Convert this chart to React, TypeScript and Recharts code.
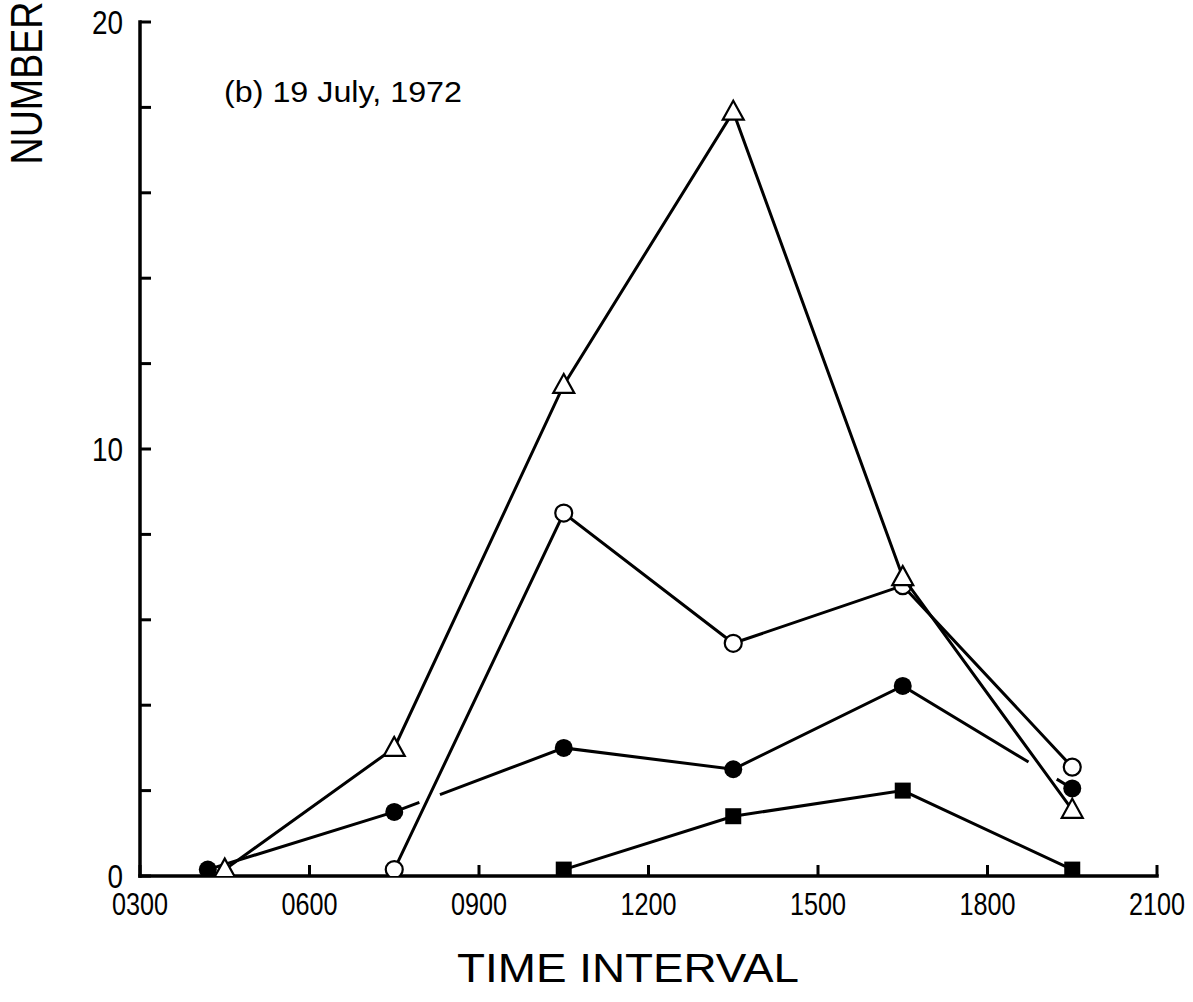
import React from 'react';
import { ComposedChart, Scatter, XAxis, YAxis, Label } from 'recharts';

// time of day in hours (0300 = 3)
const HOUR_TICKS = [3, 6, 9, 12, 15, 18, 21];
const HOUR_LABELS = ['0300', '0600', '0900', '1200', '1500', '1800', '2100'];
const COUNT_TICKS = [0, 2, 4, 6, 8, 10, 12, 14, 16, 18, 20];
const LABELED_COUNTS = [0, 10, 20];

const triangleTimes = [4.5, 7.5, 10.5, 13.5, 16.5, 19.5];
const triangleCounts = [0.15, 3.0, 11.5, 17.9, 7.0, 1.55];

const openCircleTimes = [7.5, 10.5, 13.5, 16.5, 19.5];
const openCircleCounts = [0.15, 8.5, 5.45, 6.8, 2.55];

const filledCircleTimes = [4.2, 7.5, 10.5, 13.5, 16.5, 19.5];
const filledCircleCounts = [0.15, 1.5, 3.0, 2.5, 4.45, 2.05];

const squareTimes = [10.5, 13.5, 16.5, 19.5];
const squareCounts = [0.15, 1.4, 2.0, 0.15];

const toPoints = (times: number[], counts: number[]) =>
  times.map((t, i) => ({ t, v: counts[i] }));

const FONT = '"Liberation Sans Narrow", "Liberation Sans", Arial, sans-serif';
const INK = '#000';

const XTick = (props: any) => {
  const { x, y, payload } = props;
  const label = HOUR_LABELS[HOUR_TICKS.indexOf(payload.value)] ?? '';
  return (
    <g>
      <line x1={x} y1={y} x2={x} y2={y - 11} stroke={INK} strokeWidth={3} />
      <text
        x={x}
        y={y + 39}
        textAnchor="middle"
        fontFamily={FONT}
        fontSize={32}
        textLength={56}
        lengthAdjust="spacingAndGlyphs"
        fill={INK}
      >
        {label}
      </text>
    </g>
  );
};

const YTick = (props: any) => {
  const { x, y, payload } = props;
  const show = LABELED_COUNTS.includes(payload.value);
  const txt = String(payload.value);
  return (
    <g>
      <line x1={x} y1={y} x2={x + 11} y2={y} stroke={INK} strokeWidth={3} />
      {show && (
        <text
          x={x - 17}
          y={y + 12}
          textAnchor="end"
          fontFamily={FONT}
          fontSize={33}
          textLength={15.5 * txt.length}
          lengthAdjust="spacingAndGlyphs"
          fill={INK}
        >
          {txt}
        </text>
      )}
    </g>
  );
};

const triangle = (p: any) => (
  <polygon
    points={`${p.cx},${p.cy - 11} ${p.cx - 10.5},${p.cy + 8} ${p.cx + 10.5},${p.cy + 8}`}
    fill="#fff"
    stroke={INK}
    strokeWidth={2.2}
  />
);
const openCircle = (p: any) => (
  <circle cx={p.cx} cy={p.cy} r={8.5} fill="#fff" stroke={INK} strokeWidth={2.2} />
);
const filledCircle = (p: any) => <circle cx={p.cx} cy={p.cy} r={9} fill={INK} />;
const square = (p: any) => (
  <rect x={p.cx - 8} y={p.cy - 8} width={16} height={16} fill={INK} />
);

const lineStyle = { stroke: INK, strokeWidth: 3 };

export default function App() {
  return (
    <div style={{ position: 'absolute', left: 0, top: 0, background: '#fff' }}>
      <ComposedChart
        width={1193}
        height={1002}
        margin={{ top: 22, right: 36, left: 80, bottom: 66 }}
      >
        <XAxis
          type="number"
          dataKey="t"
          domain={[3, 21]}
          ticks={HOUR_TICKS}
          interval={0}
          height={60}
          tickSize={0}
          tickMargin={0}
          tickLine={false}
          axisLine={{ stroke: INK, strokeWidth: 3.5, strokeLinecap: 'square' }}
          tick={<XTick />}
          allowDataOverflow
        >
          <Label
            content={() => (
              <text
                x={628}
                y={982}
                textAnchor="middle"
                fontFamily={FONT}
                fontSize={40}
                textLength={342}
                lengthAdjust="spacingAndGlyphs"
                fill={INK}
              >
                TIME INTERVAL
              </text>
            )}
          />
        </XAxis>
        <YAxis
          type="number"
          dataKey="v"
          domain={[0, 20]}
          ticks={COUNT_TICKS}
          interval={0}
          width={60}
          tickSize={0}
          tickMargin={0}
          tickLine={false}
          axisLine={{ stroke: INK, strokeWidth: 3.5, strokeLinecap: 'square' }}
          tick={<YTick />}
          allowDataOverflow
        >
          <Label
            content={() => (
              <g>
                <text
                  transform="translate(42, 83) rotate(-90)"
                  textAnchor="middle"
                  fontFamily={FONT}
                  fontSize={44}
                  textLength={163}
                  lengthAdjust="spacingAndGlyphs"
                  fill={INK}
                >
                  NUMBER
                </text>
                <text
                  x={224}
                  y={102}
                  fontFamily={FONT}
                  fontSize={29}
                  textLength={238}
                  lengthAdjust="spacingAndGlyphs"
                  fill={INK}
                >
                  (b) 19 July, 1972
                </text>
              </g>
            )}
          />
        </YAxis>
        <Scatter
          data={toPoints(squareTimes, squareCounts)}
          line={lineStyle}
          shape={square}
          isAnimationActive={false}
        />
        <Scatter
          data={toPoints(filledCircleTimes, filledCircleCounts)}
          line={{ ...lineStyle, strokeDasharray: '222 22 639 33 100' }}
          shape={filledCircle}
          isAnimationActive={false}
        />
        <Scatter
          data={toPoints(openCircleTimes, openCircleCounts)}
          line={lineStyle}
          shape={openCircle}
          isAnimationActive={false}
        />
        <Scatter
          data={toPoints(triangleTimes, triangleCounts)}
          line={lineStyle}
          shape={triangle}
          isAnimationActive={false}
        />
      </ComposedChart>
    </div>
  );
}
